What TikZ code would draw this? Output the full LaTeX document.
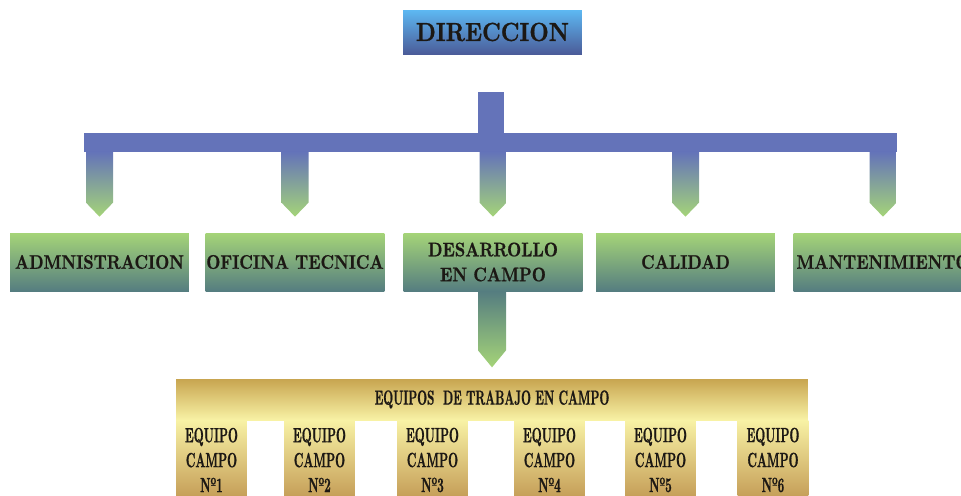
\documentclass[tikz,border=0pt]{standalone}
\usepackage{fontspec}
\usetikzlibrary{calc}
\newfontfamily\headfont{lmroman10-bold.otf}[FakeStretch=0.86,FakeBold=0.8]
\newfontfamily\unitfont{lmroman10-bold.otf}[FakeStretch=0.83,FakeBold=0.8]
\newfontfamily\teamfont{lmroman10-bold.otf}[FakeStretch=0.56,FakeBold=0.8]
\definecolor{skytop}{HTML}{5DB8F2}
\definecolor{skybot}{HTML}{4B5C99}
\definecolor{barblue}{HTML}{6473B9}
\definecolor{leaftop}{HTML}{A5D478}
\definecolor{leafbot}{HTML}{557D80}
\definecolor{goldtop}{HTML}{C8A550}
\definecolor{goldpale}{HTML}{F8F2A5}
\definecolor{goldtan}{HTML}{C39B55}
\definecolor{ink}{HTML}{1C1814}
\begin{document}
\begin{tikzpicture}[x=0.02cm,y=0.02cm,
  head/.style={minimum width=3.58cm,minimum height=0.88cm,inner sep=0pt,top color=skytop,bottom color=skybot,text=ink,font=\headfont\fontsize{14.9}{18}\selectfont},
  unit/.style={minimum width=3.58cm,minimum height=1.16cm,inner sep=0pt,top color=leaftop,bottom color=leafbot,text=ink,align=center,font=\unitfont\fontsize{11.2}{14.2}\selectfont},
  crew/.style={minimum width=12.64cm,minimum height=0.82cm,inner sep=0pt,top color=goldtop,bottom color=goldpale,text=ink,font=\teamfont\fontsize{11.6}{14.2}\selectfont},
  team/.style={minimum width=1.42cm,minimum height=1.6cm,inner sep=0pt,top color=goldpale,bottom color=goldtan,text=ink,align=center,font=\teamfont\fontsize{11.7}{14.2}\selectfont},
  bar/.style={fill=barblue},
  stem/.style={top color=barblue,bottom color=leaftop},
  drop/.style={top color=leafbot,bottom color=leaftop}]
\clip (0,0) rectangle (961,-495);

\node[head] (dir) at (492.5,-32) {DIRECCION};

\node[unit] (adm) at (99.5,-262) {ADMNISTRACION};
\node[unit] (ofi) at (295,-262) {OFICINA TECNICA};
\node[unit] (des) at (493,-262) {DESARROLLO\\EN CAMPO};
\node[unit] (cal) at (685.5,-262) {CALIDAD};
\node[unit] (man) at (883,-262) {MANTENIMIENTO};

\fill[bar] ($(dir.south)+(-15,-38)$) rectangle ($(dir.south)+(11,-80)$);
\fill[bar] ($(adm.north)+(-16,81)$) rectangle ($(man.north)+(13.5,100)$);
\foreach \u in {adm,ofi,des,cal,man}
  \shade[stem] ($(\u.north)+(0,16)$) -- ++(13.5,14) -- ++(0,51) -- ++(-27,0) -- ++(0,-51) -- cycle;

\shade[drop] ($(des.south)+(-15,0)$) -- ++(28,0) -- ++(0,-59) -- ++(-14,-17) -- ++(-14,17) -- cycle;

\node[crew] (crew) at (492,-399.5) {EQUIPOS\ \ DE TRABAJO EN CAMPO};
\foreach \n/\cx in {1/211.5,2/319.5,3/432.5,4/549.5,5/660.5,6/773}
  \node[team] (eq\n) at (\cx,-460) {EQUIPO\\CAMPO\\Nº\n};
\end{tikzpicture}
\end{document}
